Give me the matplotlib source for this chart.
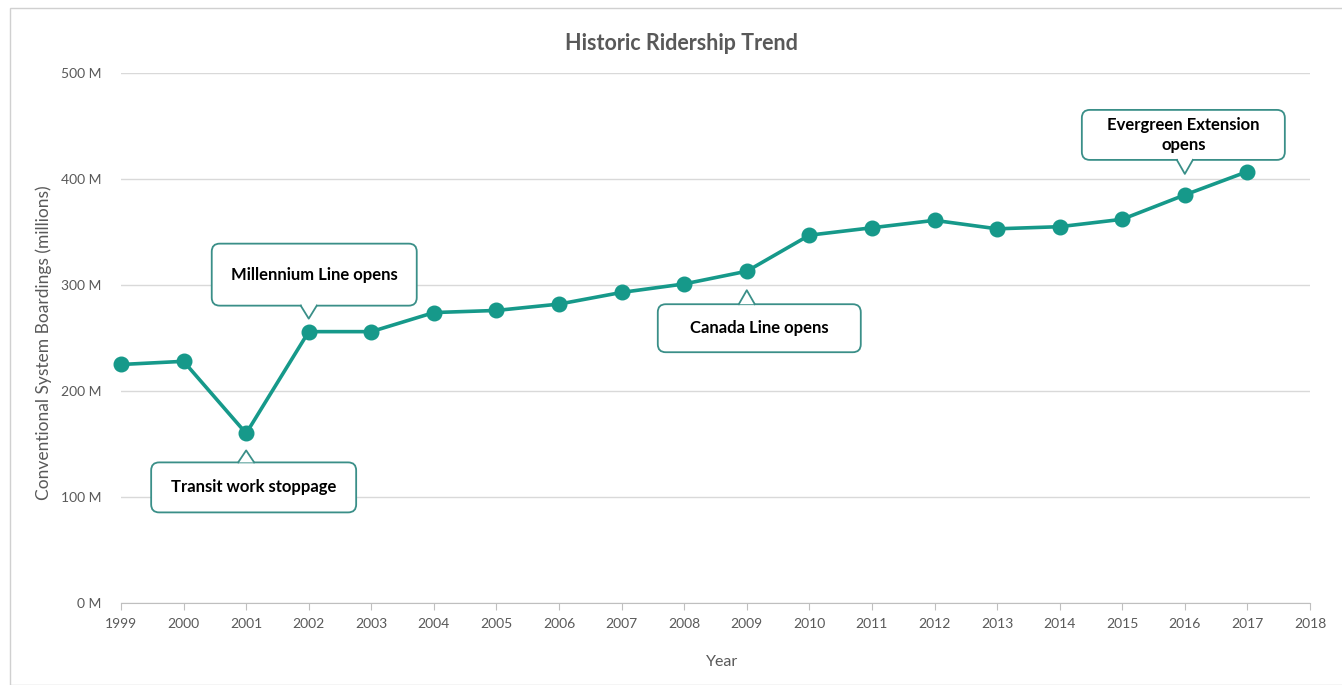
import matplotlib

matplotlib.use("Agg")
import matplotlib.pyplot as plt
import matplotlib.transforms as mtransforms
from matplotlib.patches import FancyBboxPatch, Polygon, Rectangle
from matplotlib.lines import Line2D

plt.rcParams["font.family"] = ["Lato", "DejaVu Sans"]

years = [1999, 2000, 2001, 2002, 2003, 2004, 2005, 2006, 2007, 2008,
         2009, 2010, 2011, 2012, 2013, 2014, 2015, 2016, 2017]
boardings = [225, 228, 160, 256, 256, 274, 276, 282, 293, 301,
             313, 347, 354, 361, 353, 355, 362, 385, 407]

y_ticks = [0, 100, 200, 300, 400, 500]
y_tick_labels = ["0 M", "100 M", "200 M", "300 M", "400 M", "500 M"]
x_ticks = list(range(1999, 2019))

callout_texts = ["Millennium Line opens", "Transit work stoppage",
                 "Canada Line opens", "Evergreen Extension\nopens"]
callout_years = [2002, 2001, 2009, 2016]
callout_values = [256, 160, 313, 385]

TEAL = "#16998a"
BOX_EDGE = "#3a8f88"
GRID = "#d9d9d9"
TXT = "#595959"

DPI = 100
fig = plt.figure(figsize=(13.42, 6.85), dpi=DPI)
fig.patch.set_facecolor("white")

# outer frame of the chart area
fig.add_artist(Rectangle((10 / 1342, 0), 1.1, 1 - 8 / 685, transform=fig.transFigure,
                         fill=False, edgecolor="#d0d0d0", lw=1.0))

ax = fig.add_axes([121 / 1342, 1 - 603 / 685, (1310 - 121) / 1342, (603 - 73) / 685])
ax.set_xlim(1999, 2018)
ax.set_ylim(0, 500)
ax.set_yticks(y_ticks, y_tick_labels)
ax.set_xticks(x_ticks, [str(x) for x in x_ticks])
ax.tick_params(axis="y", length=0, labelsize=10, labelcolor=TXT, pad=14)
ax.tick_params(axis="x", length=5, color="#bfbfbf", labelsize=10, labelcolor=TXT, pad=6)
for s in ("top", "right", "left"):
    ax.spines[s].set_visible(False)
ax.spines["bottom"].set_color("#bfbfbf")
ax.grid(axis="y", color=GRID, lw=1.0)
ax.set_axisbelow(True)

ax.plot(years, boardings, color=TEAL, lw=2.6, marker="o", ms=10.5,
        markerfacecolor=TEAL, markeredgecolor=TEAL, zorder=3, clip_on=False)

fig.text(681 / 1342, 1 - 44 / 685, "Historic Ridership Trend", ha="center", va="center",
         fontsize=15.5, fontweight="bold", color=TXT)
fig.text(44 / 1342, 1 - 343 / 685, "Conventional System Boardings (millions)", ha="center",
         va="center", rotation=90, fontsize=12.5, color=TXT)
fig.text(722 / 1342, 1 - 662 / 685, "Year", ha="center", va="center", fontsize=11.5, color=TXT)

# callout geometry in pixels: gap from point to pointer tip, box left/right,
# box near/far edge measured from the tip, and which side of the point
layouts = [
    (13, -97, 108, 13, 75, "up"),
    (17, -95, 110, 12, 62, "down"),
    (19, -89, 114, 14, 62, "down"),
    (21, -103, 100, 14, 64, "up"),
]

p = 1.0 / DPI
for text, yr, val, (gap, left, right, near, far, direction) in zip(
        callout_texts, callout_years, callout_values, layouts):
    sign = 1 if direction == "up" else -1
    trans = fig.dpi_scale_trans + mtransforms.ScaledTranslation(yr, val, ax.transData)
    tip_y = sign * gap
    y0 = tip_y + sign * near
    y1 = tip_y + sign * far
    lo, hi = min(y0, y1), max(y0, y1)
    box = FancyBboxPatch((left * p, lo * p), (right - left) * p, (hi - lo) * p,
                         boxstyle=f"round,pad=0,rounding_size={8 * p}",
                         transform=trans, facecolor="white", edgecolor=BOX_EDGE,
                         lw=1.3, zorder=5, clip_on=False)
    fig.add_artist(box)
    hw = 8
    tri = [(-hw * p, y0 * p), (0, tip_y * p), (hw * p, y0 * p)]
    fig.add_artist(Polygon(tri, closed=True, transform=trans, facecolor="white",
                           edgecolor="none", zorder=6, clip_on=False))
    fig.add_artist(Rectangle((-(hw - 1) * p, (y0 - sign * 1.5) * p), 2 * (hw - 1) * p, 3 * p,
                             transform=trans, facecolor="white", edgecolor="none",
                             zorder=6, clip_on=False))
    fig.add_artist(Line2D([t[0] for t in tri], [t[1] for t in tri], transform=trans,
                          color=BOX_EDGE, lw=1.3, zorder=7, clip_on=False))
    cx = (left + right) / 2
    cy = (y0 + y1) / 2
    fig.text(cx * p, cy * p, text, transform=trans, ha="center", va="center",
             fontsize=12, fontweight="bold", color="black", linespacing=1.35,
             zorder=8)

fig.savefig("out.png", dpi=DPI)
